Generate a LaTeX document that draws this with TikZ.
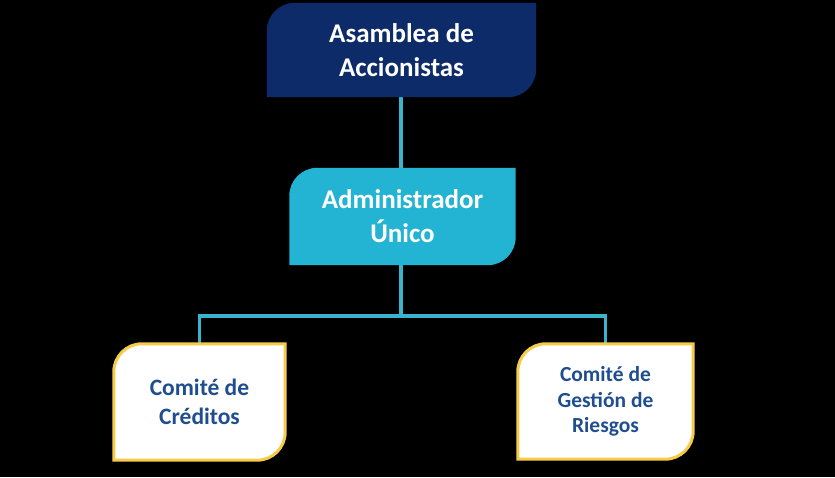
\documentclass[tikz,border=0pt]{standalone}
\usepackage{fontspec}
\setmainfont{Carlito}
\usetikzlibrary{backgrounds}
\definecolor{navy}{HTML}{0C2B68}
\definecolor{aqua}{HTML}{24B4D3}
\definecolor{linkblue}{HTML}{3AB4CC}
\definecolor{gold}{HTML}{F6CB48}
\definecolor{inkblue}{HTML}{1F4E8E}
\newcommand{\leafr}{28pt}
% leaf outline: round top-left and bottom-right corners only
\newcommand{\leafshape}[2]{%
  \path[#2] ([xshift=\leafr]#1.north west) -- (#1.north east)
    -- ([yshift=\leafr]#1.south east) arc[start angle=0,end angle=-90,radius=\leafr]
    -- (#1.south west) -- ([yshift=-\leafr]#1.north west)
    arc[start angle=180,end angle=90,radius=\leafr] -- cycle;}
\tikzset{
  leaf/.style={align=center, font=\bfseries, inner sep=0pt},
  board/.style={leaf, text=white, font=\bfseries\fontsize{27}{34}\selectfont},
  committee/.style={leaf, text=inkblue},
  link/.style={draw=linkblue, line width=3.5pt},
}
\begin{document}
\begin{tikzpicture}[x=1pt,y=1pt]
  \useasboundingbox (0,0) rectangle (835,477);
  \node[board, minimum width=269pt, minimum height=94pt] (asamblea) at (401.5,427) {Asamblea de\\Accionistas};
  \node[board, minimum width=226pt, minimum height=97pt] (admin) at (402.5,260.5) {Administrador\\Único};
  \node[committee, minimum width=171pt, minimum height=116pt, font=\bfseries\fontsize{23.5}{29}\selectfont] (creditos) at (199.5,75) {Comité de\\Créditos};
  \node[committee, minimum width=175pt, minimum height=115pt, font=\bfseries\fontsize{21.5}{25.5}\selectfont] (riesgos) at (605.5,75.5) {Comité de\\Gestión de\\Riesgos};
  \coordinate (bar) at (401,161);
  \begin{scope}[on background layer]
    \fill[black] (0,0) rectangle (835,477);
    \draw[link] (asamblea.south -| bar) -- (admin.north -| bar);
    \draw[link] (admin.south -| bar) -- (bar);
    \draw[link] (creditos.north) -- (creditos.north |- bar) -- (riesgos.north |- bar) -- (riesgos.north);
    \leafshape{asamblea}{fill=navy}
    \leafshape{admin}{fill=aqua}
    \leafshape{creditos}{fill=white, draw=gold, line width=3pt}
    \leafshape{riesgos}{fill=white, draw=gold, line width=3pt}
  \end{scope}
\end{tikzpicture}
\end{document}
